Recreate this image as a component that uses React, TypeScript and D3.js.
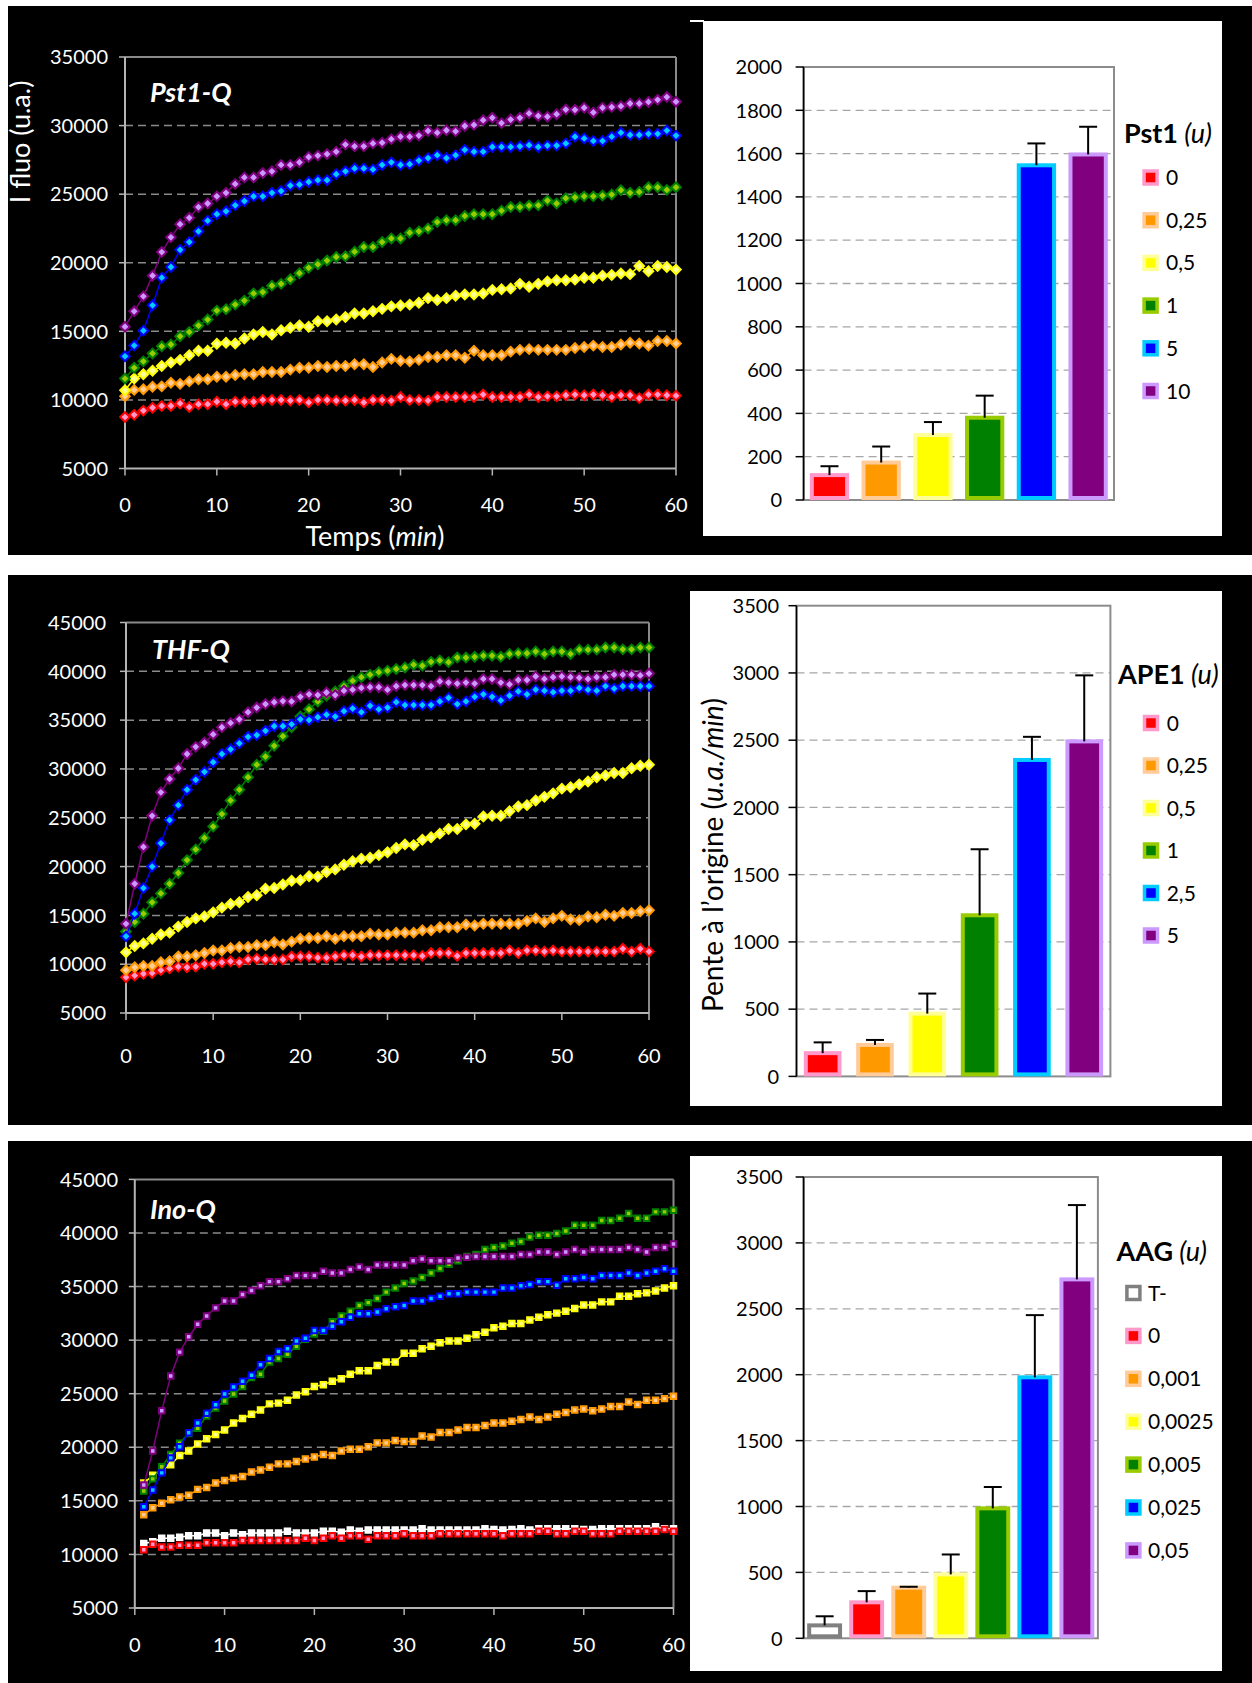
import React from "react";
import * as d3 from "d3";

const FONT = "Lato, 'Open Sans', 'Noto Sans', sans-serif";

// ---------- time axes ----------
const minutesFrom0 = [0,1,2,3,4,5,6,7,8,9,10,11,12,13,14,15,16,17,18,19,20,21,22,23,24,25,26,27,28,29,30,31,32,33,34,35,36,37,38,39,40,41,42,43,44,45,46,47,48,49,50,51,52,53,54,55,56,57,58,59,60];
const minutesFrom1 = [1,2,3,4,5,6,7,8,9,10,11,12,13,14,15,16,17,18,19,20,21,22,23,24,25,26,27,28,29,30,31,32,33,34,35,36,37,38,39,40,41,42,43,44,45,46,47,48,49,50,51,52,53,54,55,56,57,58,59,60];
const minuteTicks = [0, 10, 20, 30, 40, 50, 60];
const pstLineTicks = [5000, 10000, 15000, 20000, 25000, 30000, 35000];
const wideLineTicks = [5000, 10000, 15000, 20000, 25000, 30000, 35000, 40000, 45000];

// ---------- Pst1-Q kinetics ----------
const pst_0 = [8750,8910,9220,9430,9560,9560,9740,9480,9690,9690,
  9870,9690,9870,9870,9870,10000,10000,10000,9950,10000,
  9820,10000,10000,9950,9950,10000,9820,10000,10000,9950,
  10210,10000,10000,9950,10210,10210,10210,10210,10210,10390,
  10210,10210,10210,10210,10390,10210,10260,10260,10340,10390,
  10340,10390,10340,10210,10340,10340,10130,10390,10390,10340,10310];
const pst_025 = [10260,10730,10780,10960,10990,11250,11170,11350,11510,11510,
  11690,11690,11820,11870,11870,12030,12030,12030,12210,12340,
  12340,12470,12400,12470,12470,12600,12600,12400,12730,12990,
  12860,12810,12920,13130,13130,13260,13260,13070,13590,13260,
  13260,13260,13520,13650,13700,13650,13650,13650,13650,13780,
  13860,13960,13860,13860,14040,14170,14110,13960,14300,14300,14110];
const pst_05 = [10700,11560,11870,12130,12470,12730,12920,13260,13590,13590,
  14090,14170,14110,14480,14770,14950,14770,15080,15260,15420,
  15340,15730,15730,15860,16040,16300,16300,16460,16640,16820,
  16880,16950,17080,17420,17290,17420,17600,17680,17680,17760,
  18020,18070,18120,18460,18250,18460,18640,18720,18720,18770,
  18910,18910,19060,19110,19220,19170,19760,19380,19760,19690,19500];
const pst_1 = [11560,12340,12810,13390,13910,14040,14640,14950,15420,15860,
  16510,16610,16950,17240,17760,17860,18330,18460,18800,19240,
  19630,19890,20160,20420,20470,20810,21150,21150,21510,21770,
  21770,22190,22290,22500,22970,23100,23100,23410,23540,23540,
  23540,23800,24060,24060,24170,24190,24530,24320,24710,24770,
  24840,24840,24900,24970,25290,25100,25160,25500,25500,25310,25500];
const pst_5 = [13180,13960,15050,16900,18910,19690,20940,21510,22290,23070,
  23540,23750,24190,24500,24840,24840,25100,25230,25630,25700,
  25890,26020,26020,26460,26670,26880,26880,26800,27130,27320,
  27130,27190,27450,27630,27840,27630,27840,28230,28100,28100,
  28440,28440,28440,28490,28570,28440,28540,28540,28700,29190,
  29060,28880,28880,29190,29480,29320,29320,29400,29400,29640,29270];
const pst_10 = [15340,16460,17550,19060,20780,21850,22810,23280,24060,24320,
  24840,25100,25750,26220,26220,26540,26670,27130,27130,27320,
  27710,27810,27920,28100,28620,28490,28490,28700,28750,29010,
  29190,29190,29270,29610,29480,29660,29580,29970,30050,30390,
  30570,30180,30440,30570,30890,30700,30650,30830,31170,31150,
  31300,30960,31300,31350,31410,31610,31610,31720,31880,32080,31740];

// ---------- THF-Q kinetics ----------
const ape_0 = [8650,8840,9020,9090,9390,9570,9750,9680,9750,10040,
  10040,10190,10300,10190,10480,10560,10480,10480,10480,10780,
  10780,10780,10670,10670,10780,10920,10920,10780,10920,10920,
  10920,10920,10920,10920,10850,11140,11140,11140,10850,11140,
  11140,11140,11140,11140,11400,11140,11400,11400,11290,11400,
  11290,11290,11290,11290,11290,11290,11290,11580,11290,11580,11290];
const ape_025 = [9390,9680,9820,9820,10190,10300,10780,10780,10920,11140,
  11400,11400,11650,11760,11760,11950,11950,12240,12020,12310,
  12600,12680,12680,12860,12600,12860,12860,12860,13120,13040,
  13040,13230,13230,13230,13480,13480,13780,13780,13780,14070,
  13960,14140,14140,14140,14140,14140,14430,14690,14330,14690,
  14950,14580,14510,14880,14800,15060,14950,15240,15240,15420,15530];
const ape_05 = [11210,11870,12130,12600,13040,13230,13850,14330,14690,14880,
  15310,15790,16160,16340,16890,17070,17730,17800,18170,18540,
  18610,19010,18970,19450,19710,20180,20550,20800,20910,21170,
  21460,21900,22270,22200,22740,23000,23370,23840,23840,24320,
  24390,25120,25200,25200,25670,26150,26290,26770,27140,27500,
  27980,28130,28420,28710,29150,29330,29590,29590,30070,30320,30430];
const ape_1 = [13340,14330,15170,16340,17250,18240,19340,20660,21760,22930,
  24100,25380,26770,27870,29150,30430,31270,32370,33360,34270,
  35370,36110,36910,37500,37940,38480,39030,39400,39660,39910,
  40060,40240,40390,40680,40570,40970,41120,40940,41410,41410,
  41490,41600,41600,41490,41780,41850,41850,42030,41780,42030,
  42030,41780,42220,42220,42220,42440,42440,42250,42250,42440,42440];
const ape_25 = [12860,15170,17800,20000,22380,24760,26290,27870,28890,29700,
  30690,31530,32010,32630,33290,33470,33910,34380,34380,34570,
  35080,35010,35300,35560,35370,35920,36180,35810,36470,36110,
  36290,36840,36540,36540,36540,36540,36910,37280,36650,36910,
  37390,37640,37390,37020,37500,37940,37640,38120,38010,37860,
  38010,38010,38300,38120,38010,38480,38230,38480,38480,38480,38480];
const ape_5 = [14140,18240,22010,25200,27610,28970,30070,31530,32260,32700,
  33540,34270,34710,35080,35810,36290,36650,36840,36950,36910,
  37390,37640,37570,37830,37570,38010,38120,38300,38370,38370,
  38120,38480,38590,38590,38590,38480,38960,38850,38740,38850,
  38740,39220,39220,38850,38670,39110,39110,39470,39220,39400,
  39470,39400,39330,39220,39400,39400,39660,39660,39660,39580,39770];

// ---------- Ino-Q kinetics (t = 1..60) ----------
const aag_T = [11020,11190,11510,11510,11610,11740,11740,12000,12000,11740,
  12000,11840,12000,12000,12000,12000,12170,12000,12000,12000,
  12170,12170,12070,12270,12170,12270,12270,12270,12270,12270,
  12270,12390,12270,12270,12270,12270,12270,12270,12390,12330,
  12270,12330,12390,12270,12390,12390,12390,12390,12390,12330,
  12330,12390,12390,12390,12390,12390,12390,12590,12390,12390];
const aag_0 = [10440,10960,10700,10700,10860,10860,10860,11090,11090,11090,
  11090,11290,11290,11290,11290,11290,11290,11290,11510,11290,
  11510,11740,11510,11740,11740,11420,11740,11740,11740,11930,
  11740,11740,11740,11930,11930,11930,11930,11930,11930,11930,
  11740,11930,11930,11930,12170,12170,11930,11930,12170,12170,
  11930,11930,11930,12170,12170,12170,12170,12170,12330,12170];
const aag_001 = [13700,14350,14770,15100,15360,15520,16070,16240,16660,16890,
  17120,17280,17700,17870,18130,18450,18450,18680,18910,19100,
  19330,19230,19660,19820,19820,20050,20410,20410,20640,20540,
  20540,21060,20960,21380,21380,21610,21840,21840,22040,22260,
  22260,22430,22590,22820,22590,22820,23080,23240,23470,23570,
  23400,23570,23800,23800,24220,23990,24380,24380,24540,24770];
const aag_0025 = [16660,17380,17870,18360,19230,19660,20310,20800,21190,21610,
  22260,22690,23080,23470,24050,24120,24380,24870,25190,25680,
  25840,26170,26400,26820,27150,27150,27640,27960,27960,28780,
  28780,29200,29430,29760,29920,29920,30180,30510,30730,31160,
  31290,31550,31550,31870,32130,32360,32520,32690,32950,33270,
  33270,33570,33570,34090,34090,34320,34410,34580,34870,35070];
const aag_005 = [15910,17050,18190,19330,20370,21290,21780,22920,23670,24320,
  24970,25680,26500,26820,27960,28290,28680,29430,30080,30570,
  30830,31710,32260,32690,33240,33500,33890,34480,34870,35290,
  35520,35850,36270,36690,37080,37410,37800,38000,38450,38650,
  38780,39040,39200,39630,39790,39790,39950,40180,40730,40730,
  40730,41160,41160,41380,41810,41380,41380,41970,41970,42130];
const aag_025 = [14450,16010,17610,19010,20050,21350,22260,23180,23960,24970,
  25620,26170,26730,27700,28290,28940,29200,29920,30180,30900,
  30900,31290,31710,32130,32460,32460,32620,32920,33110,33240,
  33660,33660,33890,34090,34320,34320,34480,34480,34480,34480,
  34870,34870,35070,35200,35460,35460,35130,35720,35720,35850,
  35720,36040,36040,36040,36270,36040,36270,36430,36660,36430];
const aag_05 = [16470,19660,23400,26660,28880,30310,31480,32260,33010,33660,
  33660,34250,34640,35070,35460,35460,35720,36040,36040,36040,
  36430,36270,36270,36600,36820,36600,37020,37020,37020,37020,
  37410,37570,37410,37410,37410,37670,37740,37800,37800,37800,
  37800,37800,38000,38000,38220,38220,38000,38220,38450,38220,
  38450,38450,38450,38450,38650,38450,38220,38650,38650,38970];

// ---------- bar charts ----------
const pstLabels = ["0", "0,25", "0,5", "1", "5", "10"];
const pstSlopes = [115, 173, 300, 380, 1546, 1596];
const pstErrors = [41, 74, 60, 102, 101, 128];
const pstBarTicks = [0, 200, 400, 600, 800, 1000, 1200, 1400, 1600, 1800, 2000];

const apeLabels = ["0", "0,25", "0,5", "1", "2,5", "5"];
const apeSlopes = [173, 234, 467, 1198, 2353, 2491];
const apeErrors = [80, 37, 149, 491, 172, 491];
const bigBarTicks = [0, 500, 1000, 1500, 2000, 2500, 3000, 3500];

const aagLabels = ["T-", "0", "0,001", "0,0025", "0,005", "0,025", "0,05"];
const aagSlopes = [98, 273, 384, 485, 986, 1980, 2723];
const aagErrors = [69, 85, 7, 151, 162, 472, 564];

// ---------- colours ----------
const darkColors = ["#ff0000", "#ff9900", "#ffff00", "#008000", "#0000ff", "#800080"];
const lightColors = ["#ff99cc", "#ffcc99", "#ffff99", "#99cc00", "#00ccff", "#cc99ff"];

type Series = { values: number[]; dark: string; light: string };

const pstSeries: Series[] = [pst_0, pst_025, pst_05, pst_1, pst_5, pst_10].map((v, i) => ({ values: v, dark: darkColors[i], light: lightColors[i] }));
const apeSeries: Series[] = [ape_0, ape_025, ape_05, ape_1, ape_25, ape_5].map((v, i) => ({ values: v, dark: darkColors[i], light: lightColors[i] }));
const aagSeries: Series[] = [
  { values: aag_T, dark: "#ffffff", light: "#ffffff" },
  ...[aag_0, aag_001, aag_0025, aag_005, aag_025, aag_05].map((v, i) => ({ values: v, dark: darkColors[i], light: lightColors[i] })),
];

type LineProps = {
  left: number; right: number; top: number; bottom: number;
  yMin: number; yMax: number; yTicks: number[]; times: number[];
  series: Series[]; marker: "diamond" | "square";
  title: string; titleX: number; titleY: number;
  labelRight: number; xLabelY: number;
};

function LineChart(p: LineProps) {
  const x = d3.scaleLinear().domain([0, 60]).range([p.left, p.right]);
  const y = d3.scaleLinear().domain([p.yMin, p.yMax]).range([p.bottom, p.top]);
  const line = d3.line<number>().x((_, i) => x(p.times[i])).y((d) => y(d));
  const sym = d3.symbol(d3.symbolSquare, p.marker === "diamond" ? 46 : 30)() as string;
  const rot = p.marker === "diamond" ? " rotate(45)" : "";
  return (
    <g>
      {p.yTicks.filter((t) => t > p.yMin && t < p.yMax).map((t) => (
        <line key={"g" + t} x1={p.left} x2={p.right} y1={y(t)} y2={y(t)} stroke="#8a8a8a" strokeWidth={1.5} strokeDasharray="8,5" />
      ))}
      <line x1={p.left} x2={p.right} y1={p.top} y2={p.top} stroke="#8a8a8a" strokeWidth={2} />
      <line x1={p.right} x2={p.right} y1={p.top} y2={p.bottom} stroke="#8a8a8a" strokeWidth={2} />
      <line x1={p.left} x2={p.left} y1={p.top} y2={p.bottom} stroke="#b4b4b4" strokeWidth={2} />
      <line x1={p.left} x2={p.right} y1={p.bottom} y2={p.bottom} stroke="#b4b4b4" strokeWidth={2} />
      {p.yTicks.map((t) => (
        <g key={"y" + t}>
          <line x1={p.left - 6} x2={p.left} y1={y(t)} y2={y(t)} stroke="#b4b4b4" strokeWidth={1.5} />
          <text x={p.labelRight} y={y(t)} dy="0.36em" textAnchor="end" fill="#fff" fontSize={20} fontFamily={FONT}>{t}</text>
        </g>
      ))}
      {minuteTicks.map((t) => (
        <g key={"x" + t}>
          <line x1={x(t)} x2={x(t)} y1={p.bottom} y2={p.bottom + 7} stroke="#b4b4b4" strokeWidth={1.5} />
          <text x={x(t)} y={p.xLabelY} textAnchor="middle" fill="#fff" fontSize={20} fontFamily={FONT}>{t}</text>
        </g>
      ))}
      {p.series.map((s, si) => (
        <g key={"s" + si}>
          <path d={line(s.values) as string} fill="none" stroke={s.dark} strokeWidth={1.5} />
          {s.values.map((v, i) => (
            <path key={i} d={sym} transform={`translate(${x(p.times[i])},${y(v)})${rot}`} fill={s.light} stroke={s.dark} strokeWidth={2} />
          ))}
        </g>
      ))}
      <text x={p.titleX} y={p.titleY} fill="#fff" fontSize={27} fontWeight="bold" fontStyle="italic" fontFamily={FONT}>{p.title}</text>
    </g>
  );
}

type BarProps = {
  left: number; right: number; top: number; bottom: number;
  yMax: number; yTicks: number[]; labels: string[]; values: number[]; errors: number[];
  fills: string[]; strokes: string[]; padding: number; labelRight: number;
  legendName: string; legendX: number; legendTitleY: number; legendY0: number; legendStep: number;
  legendSqX: number; legendTextX: number;
};

function BarChart(p: BarProps) {
  const y = d3.scaleLinear().domain([0, p.yMax]).range([p.bottom, p.top]);
  const x = d3.scaleBand<string>().domain(p.labels).range([p.left, p.right]).paddingInner(p.padding).paddingOuter(p.padding / 2);
  const bw = x.bandwidth();
  const sw = 4;
  return (
    <g>
      {p.yTicks.filter((t) => t > 0 && t < p.yMax).map((t) => (
        <line key={"g" + t} x1={p.left} x2={p.right} y1={y(t)} y2={y(t)} stroke="#a6a6a6" strokeWidth={1.3} strokeDasharray="8,5" />
      ))}
      <rect x={p.left} y={p.top} width={p.right - p.left} height={p.bottom - p.top} fill="none" stroke="#8c8c8c" strokeWidth={2} />
      <line x1={p.left} x2={p.left} y1={p.top} y2={p.bottom} stroke="#000" strokeWidth={1.6} />
      {p.yTicks.map((t) => (
        <g key={"y" + t}>
          <line x1={p.left - 8} x2={p.left} y1={y(t)} y2={y(t)} stroke="#000" strokeWidth={1.5} />
          <text x={p.labelRight} y={y(t)} dy="0.36em" textAnchor="end" fill="#000" fontSize={20} fontFamily={FONT}>{t}</text>
        </g>
      ))}
      {p.labels.map((l, i) => {
        const x0 = x(l) as number;
        const cx = x0 + bw / 2;
        const v = p.values[i];
        const e = p.errors[i];
        return (
          <g key={"b" + i}>
            <rect x={x0 + sw / 2} y={y(v)} width={bw - sw} height={y(0) - y(v) - sw / 2} fill={p.fills[i]} stroke={p.strokes[i]} strokeWidth={sw} />
            <line x1={cx} x2={cx} y1={y(v)} y2={y(v + e)} stroke="#000" strokeWidth={2} />
            <line x1={cx - 9} x2={cx + 9} y1={y(v + e)} y2={y(v + e)} stroke="#000" strokeWidth={2} />
          </g>
        );
      })}
      <text x={p.legendX} y={p.legendTitleY} fill="#000" fontSize={27} fontFamily={FONT}>
        <tspan fontWeight="bold">{p.legendName}</tspan>
        <tspan fontStyle="italic"> (u)</tspan>
      </text>
      {p.labels.map((l, i) => (
        <g key={"l" + i}>
          <rect x={p.legendSqX - 6.5} y={p.legendY0 + i * p.legendStep - 6.5} width={13} height={13} fill={p.fills[i]} stroke={p.strokes[i]} strokeWidth={3.5} />
          <text x={p.legendTextX} y={p.legendY0 + i * p.legendStep} dy="0.36em" fill="#000" fontSize={21} fontFamily={FONT}>{l}</text>
        </g>
      ))}
    </g>
  );
}

export default function App() {
  return (
    <svg width={1252} height={1683} style={{ position: "absolute", left: 0, top: 0, background: "#fff" }}>
      <rect x={0} y={0} width={1252} height={1683} fill="#fff" />
      {/* black panels */}
      <rect x={8} y={6} width={1244} height={549} fill="#000" />
      <rect x={8} y={575} width={1244} height={550} fill="#000" />
      <rect x={8} y={1141} width={1244} height={542} fill="#000" />
      {/* white boxes */}
      <rect x={703} y={21} width={519} height={515} fill="#fff" />
      <rect x={690} y={20} width={14} height={2} fill="#fff" />
      <rect x={690} y={591} width={532} height={515} fill="#fff" />
      <rect x={690} y={1156} width={532} height={515} fill="#fff" />

      {/* Panel 1 */}
      <LineChart left={125} right={676} top={57} bottom={468.5} yMin={5000} yMax={35000} yTicks={pstLineTicks}
        times={minutesFrom0} series={pstSeries} marker="diamond" title="Pst1-Q" titleX={150} titleY={102}
        labelRight={108} xLabelY={512} />
      <text transform="translate(30,142) rotate(-90)" textAnchor="middle" fill="#fff" fontSize={27} fontFamily={FONT}>I fluo (u.a.)</text>
      <text x={375} y={546} textAnchor="middle" fill="#fff" fontSize={27} fontFamily={FONT}>
        Temps (<tspan fontStyle="italic">min</tspan>)
      </text>
      <BarChart left={803.6} right={1114} top={67} bottom={500} yMax={2000} yTicks={pstBarTicks}
        labels={pstLabels} values={pstSlopes} errors={pstErrors} fills={darkColors} strokes={lightColors}
        padding={0.24} labelRight={782} legendName="Pst1" legendX={1124} legendTitleY={143}
        legendY0={177.5} legendStep={42.7} legendSqX={1150.6} legendTextX={1166} />

      {/* Panel 2 */}
      <LineChart left={126} right={649} top={622.5} bottom={1013} yMin={5000} yMax={45000} yTicks={wideLineTicks}
        times={minutesFrom0} series={apeSeries} marker="diamond" title="THF-Q" titleX={152} titleY={659}
        labelRight={106} xLabelY={1063} />
      <BarChart left={796.5} right={1110.4} top={605.7} bottom={1076.4} yMax={3500} yTicks={bigBarTicks}
        labels={apeLabels} values={apeSlopes} errors={apeErrors} fills={darkColors} strokes={lightColors}
        padding={0.28} labelRight={779} legendName="APE1" legendX={1118} legendTitleY={684}
        legendY0={723} legendStep={42.5} legendSqX={1151} legendTextX={1166.7} />
      <text transform="translate(723,855) rotate(-90)" textAnchor="middle" fill="#000" fontSize={28} fontFamily={FONT}>
        Pente à l’origine (<tspan fontStyle="italic">u.a./min</tspan>)
      </text>

      {/* Panel 3 */}
      <LineChart left={134.8} right={673.5} top={1179.4} bottom={1608} yMin={5000} yMax={45000} yTicks={wideLineTicks}
        times={minutesFrom1} series={aagSeries} marker="square" title="Ino-Q" titleX={150} titleY={1219}
        labelRight={118} xLabelY={1652} />
      <BarChart left={803.6} right={1097.9} top={1177} bottom={1638.3} yMax={3500} yTicks={bigBarTicks}
        labels={aagLabels} values={aagSlopes} errors={aagErrors}
        fills={["#ffffff", ...darkColors]} strokes={["#808080", ...lightColors]}
        padding={0.17} labelRight={782.5} legendName="AAG" legendX={1116.5} legendTitleY={1261}
        legendY0={1293} legendStep={42.9} legendSqX={1133.4} legendTextX={1148} />
    </svg>
  );
}
